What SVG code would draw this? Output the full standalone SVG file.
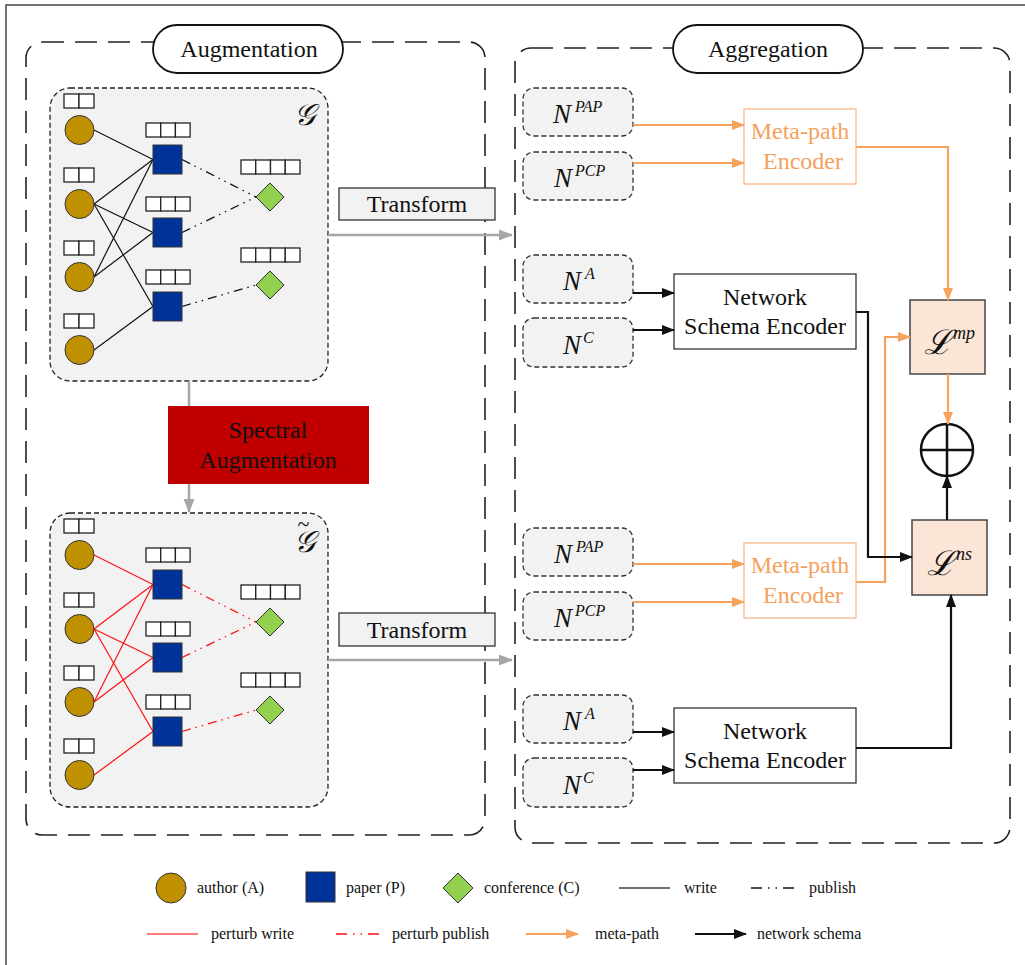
<svg xmlns="http://www.w3.org/2000/svg" width="1025" height="965" viewBox="0 0 1025 965">
<style>
text{font-family:"Liberation Serif","DejaVu Serif",serif;fill:#111}
.t24{font-size:24px}
.lg{font-size:16px}
.big{fill:none;stroke:#222;stroke-width:1.6;stroke-dasharray:22 11}
.pill{fill:#fff;stroke:#111;stroke-width:1.8}
.gbox{fill:#f2f2f2;stroke:#222;stroke-width:1.3;stroke-dasharray:5 3}
.nbox{fill:#f2f2f2;stroke:#333;stroke-width:1.3;stroke-dasharray:5 3}
.cell{fill:#fff;stroke:#222;stroke-width:1.3}
.au{fill:#bf9000;stroke:#333;stroke-width:1}
.pa{fill:#003399;stroke:#333;stroke-width:1}
.co{fill:#92d050;stroke:#333;stroke-width:1}
.w{stroke:#111;stroke-width:1.2;fill:none}
.pub{stroke:#111;stroke-width:1.3;fill:none;stroke-dasharray:9 5 1.5 5 1.5 5}
.rw{stroke:#ff1010;stroke-width:1.2;fill:none}
.rpub{stroke:#ff1010;stroke-width:1.3;fill:none;stroke-dasharray:9 5 1.5 5 1.5 5}
.gray{stroke:#a6a6a6;stroke-width:2.5;fill:none}
.or{stroke:#f7a35c;stroke-width:2.2;fill:none}
.bk{stroke:#111;stroke-width:2.2;fill:none}
.enc{fill:#fff;stroke:#333;stroke-width:1.3}
.menc{fill:#fff;stroke:#f8b88a;stroke-width:1.3}
.otxt{fill:#f4a15e}
.loss{fill:#fbe5d6;stroke:#444;stroke-width:1.5}
.it{font-style:italic}
</style>
<defs>
<marker id="ag" markerUnits="userSpaceOnUse" markerWidth="14" markerHeight="12" refX="13" refY="6" orient="auto"><path d="M0,0.5 L14,6 L0,11.5 Z" fill="#a6a6a6"/></marker>
<marker id="ao" markerUnits="userSpaceOnUse" markerWidth="13" markerHeight="12" refX="12" refY="6" orient="auto"><path d="M0,1 L13,6 L0,11 Z" fill="#f7a35c"/></marker>
<marker id="ab" markerUnits="userSpaceOnUse" markerWidth="13" markerHeight="12" refX="12" refY="6" orient="auto"><path d="M0,1 L13,6 L0,11 Z" fill="#111"/></marker>
<g id="cells2"><rect class="cell" x="0" y="0" width="15" height="14"/><rect class="cell" x="15" y="0" width="15" height="14"/></g>
<g id="cells3"><rect class="cell" x="0" y="0" width="14.7" height="14"/><rect class="cell" x="14.7" y="0" width="14.7" height="14"/><rect class="cell" x="29.4" y="0" width="14.7" height="14"/></g>
<g id="cells4"><rect class="cell" x="0" y="0" width="14.75" height="14"/><rect class="cell" x="14.75" y="0" width="14.75" height="14"/><rect class="cell" x="29.5" y="0" width="14.75" height="14"/><rect class="cell" x="44.25" y="0" width="14.75" height="14"/></g>
</defs>

<rect x="6" y="5" width="1040" height="980" fill="none" stroke="#444" stroke-width="1.5"/>

<g id="augmentation-frame">
<rect class="big" x="26" y="42" width="459" height="793" rx="16"/>
<rect class="pill" x="153" y="25" width="190" height="48" rx="24"/>
<text class="t24" x="249" y="57" text-anchor="middle" font-size="25">Augmentation</text>
</g>
<g id="aggregation-frame">
<rect class="big" x="515" y="48" width="495" height="795" rx="16"/>
<rect class="pill" x="673" y="25" width="190" height="48" rx="24"/>
<text class="t24" x="768" y="57" text-anchor="middle" font-size="25">Aggregation</text>
</g>

<g id="graph-G">
<rect class="gbox" x="50" y="88" width="278" height="293" rx="20"/>
<text x="304" y="125" font-size="30" class="it" text-anchor="middle">𝒢</text>
<g class="edges">
<line class="w" x1="94" y1="130" x2="153" y2="159.5"/>
<line class="w" x1="94" y1="204" x2="153" y2="159.5"/>
<line class="w" x1="94" y1="204" x2="153" y2="232.5"/>
<line class="w" x1="94" y1="204" x2="153" y2="306.5"/>
<line class="w" x1="94" y1="277" x2="153" y2="159.5"/>
<line class="w" x1="94" y1="277" x2="153" y2="232.5"/>
<line class="w" x1="94" y1="350" x2="153" y2="306.5"/>
<line class="pub" x1="182" y1="159.5" x2="256" y2="197"/>
<line class="pub" x1="182" y1="232.5" x2="256" y2="197"/>
<line class="pub" x1="182" y1="306.5" x2="256" y2="285"/>
</g>
<use href="#cells2" x="64" y="94"/><circle class="au" cx="79.5" cy="130" r="14.5"/>
<use href="#cells2" x="64" y="168"/><circle class="au" cx="79.5" cy="204" r="14.5"/>
<use href="#cells2" x="64" y="241"/><circle class="au" cx="79.5" cy="277" r="14.5"/>
<use href="#cells2" x="64" y="314"/><circle class="au" cx="79.5" cy="350" r="14.5"/>
<use href="#cells3" x="146" y="123"/><rect class="pa" x="153" y="145" width="29" height="29"/>
<use href="#cells3" x="146" y="197"/><rect class="pa" x="153" y="218" width="29" height="29"/>
<use href="#cells3" x="146" y="270"/><rect class="pa" x="153" y="292" width="29" height="29"/>
<use href="#cells4" x="241" y="160"/><path class="co" d="M256,197 L270,183 L284,197 L270,211 Z"/>
<use href="#cells4" x="241" y="248"/><path class="co" d="M256,285 L270,271 L284,285 L270,299 Z"/>
</g>

<g id="graph-G-tilde">
<rect class="gbox" x="50" y="513" width="278" height="294" rx="20"/>
<text x="304" y="552" font-size="30" class="it" text-anchor="middle">𝒢<tspan font-size="22" font-style="normal" dx="-17" dy="-21">~</tspan></text>
<g class="edges">
<line class="rw" x1="94" y1="555" x2="153" y2="584.5"/>
<line class="rw" x1="94" y1="629" x2="153" y2="584.5"/>
<line class="rw" x1="94" y1="629" x2="153" y2="657.5"/>
<line class="rw" x1="94" y1="629" x2="153" y2="731.5"/>
<line class="rw" x1="94" y1="702" x2="153" y2="584.5"/>
<line class="rw" x1="94" y1="702" x2="153" y2="657.5"/>
<line class="rw" x1="94" y1="775" x2="153" y2="731.5"/>
<line class="rpub" x1="182" y1="584.5" x2="256" y2="622"/>
<line class="rpub" x1="182" y1="657.5" x2="256" y2="622"/>
<line class="rpub" x1="182" y1="731.5" x2="256" y2="710"/>
</g>
<use href="#cells2" x="64" y="519"/><circle class="au" cx="79.5" cy="555" r="14.5"/>
<use href="#cells2" x="64" y="593"/><circle class="au" cx="79.5" cy="629" r="14.5"/>
<use href="#cells2" x="64" y="666"/><circle class="au" cx="79.5" cy="702" r="14.5"/>
<use href="#cells2" x="64" y="739"/><circle class="au" cx="79.5" cy="775" r="14.5"/>
<use href="#cells3" x="146" y="548"/><rect class="pa" x="153" y="570" width="29" height="29"/>
<use href="#cells3" x="146" y="622"/><rect class="pa" x="153" y="643" width="29" height="29"/>
<use href="#cells3" x="146" y="695"/><rect class="pa" x="153" y="717" width="29" height="29"/>
<use href="#cells4" x="241" y="585"/><path class="co" d="M256,622 L270,608 L284,622 L270,636 Z"/>
<use href="#cells4" x="241" y="673"/><path class="co" d="M256,710 L270,696 L284,710 L270,724 Z"/>
</g>

<g id="spectral">
<rect x="168" y="406" width="201" height="78" fill="#c00000"/>
<text class="t24" x="268" y="438" text-anchor="middle" font-size="25">Spectral</text>
<text class="t24" x="268" y="468" text-anchor="middle" font-size="25">Augmentation</text>
</g>
<g id="transform-1">
<rect x="339" y="188" width="156" height="32" fill="#f2f2f2" stroke="#333" stroke-width="1.3"/>
<text class="t24" x="417" y="212" text-anchor="middle">Transform</text>
</g>
<g id="transform-2">
<rect x="339" y="613" width="156" height="33" fill="#f2f2f2" stroke="#333" stroke-width="1.3"/>
<text class="t24" x="417" y="638" text-anchor="middle">Transform</text>
</g>

<g id="n-pap-1"><rect class="nbox" x="523" y="88" width="110" height="48" rx="11"/><text x="553" y="123" font-size="27" class="it">N<tspan font-size="16" dx="4" dy="-11">PAP</tspan></text></g>
<g id="n-pcp-1"><rect class="nbox" x="523" y="152" width="110" height="48" rx="11"/><text x="554" y="187" font-size="27" class="it">N<tspan font-size="16" dx="3" dy="-11">PCP</tspan></text></g>
<g id="n-a-1"><rect class="nbox" x="523" y="255" width="110" height="48" rx="11"/><text x="563" y="290" font-size="27" class="it">N<tspan font-size="16" dx="4" dy="-11">A</tspan></text></g>
<g id="n-c-1"><rect class="nbox" x="523" y="318" width="110" height="49" rx="11"/><text x="563" y="354" font-size="27" class="it">N<tspan font-size="16" dx="2" dy="-11">C</tspan></text></g>
<g id="n-pap-2"><rect class="nbox" x="523" y="528" width="110" height="48" rx="11"/><text x="554" y="563" font-size="27" class="it">N<tspan font-size="16" dx="4" dy="-11">PAP</tspan></text></g>
<g id="n-pcp-2"><rect class="nbox" x="523" y="592" width="110" height="48" rx="11"/><text x="554" y="627" font-size="27" class="it">N<tspan font-size="16" dx="3" dy="-11">PCP</tspan></text></g>
<g id="n-a-2"><rect class="nbox" x="523" y="695" width="110" height="48" rx="11"/><text x="563" y="730" font-size="27" class="it">N<tspan font-size="16" dx="4" dy="-11">A</tspan></text></g>
<g id="n-c-2"><rect class="nbox" x="523" y="758" width="110" height="49" rx="11"/><text x="563" y="794" font-size="27" class="it">N<tspan font-size="16" dx="2" dy="-11">C</tspan></text></g>

<g id="mp-enc-1"><rect class="menc" x="744" y="109" width="112" height="75"/><text class="t24 otxt" x="800" y="139" text-anchor="middle" font-size="25">Meta-path</text><text class="t24 otxt" x="803" y="169" text-anchor="middle" font-size="25">Encoder</text></g>
<g id="mp-enc-2"><rect class="menc" x="744" y="543" width="112" height="75"/><text class="t24 otxt" x="800" y="573" text-anchor="middle" font-size="25">Meta-path</text><text class="t24 otxt" x="803" y="603" text-anchor="middle" font-size="25">Encoder</text></g>
<g id="ns-enc-1"><rect class="enc" x="674" y="274" width="182" height="75"/><text class="t24" x="765" y="305" text-anchor="middle" font-size="25">Network</text><text class="t24" x="765" y="334" text-anchor="middle" font-size="25">Schema Encoder</text></g>
<g id="ns-enc-2"><rect class="enc" x="674" y="708" width="182" height="75"/><text class="t24" x="765" y="739" text-anchor="middle" font-size="25">Network</text><text class="t24" x="765" y="768" text-anchor="middle" font-size="25">Schema Encoder</text></g>

<g id="loss-mp"><rect class="loss" x="910" y="300" width="75" height="74"/><text x="924" y="354" font-size="34" class="it">ℒ<tspan font-size="18" dx="1" dy="-15">mp</tspan></text></g>
<g id="loss-ns"><rect class="loss" x="912" y="520" width="75" height="75"/><text x="927" y="575" font-size="34" class="it">ℒ<tspan font-size="18" dx="1" dy="-15">ns</tspan></text></g>
<g id="sum"><circle cx="947" cy="450" r="26" fill="#fff" stroke="#111" stroke-width="2.5"/><line x1="921" y1="450" x2="973" y2="450" stroke="#111" stroke-width="2.5"/><line x1="947" y1="424" x2="947" y2="476" stroke="#111" stroke-width="2.5"/></g>

<g id="connectors">
<path class="gray" d="M189,381 V406"/>
<path class="gray" d="M189,484 V512" marker-end="url(#ag)"/>
<path class="gray" d="M328,235 H512" marker-end="url(#ag)"/>
<path class="gray" d="M328,660 H512" marker-end="url(#ag)"/>
<path class="or" d="M633,125 H744" marker-end="url(#ao)"/>
<path class="or" d="M633,163 H744" marker-end="url(#ao)"/>
<path class="or" d="M856,147 H948 V300" marker-end="url(#ao)"/>
<path class="or" d="M633,564 H744" marker-end="url(#ao)"/>
<path class="or" d="M633,602 H744" marker-end="url(#ao)"/>
<path class="or" d="M856,582 H885 V337 H910" marker-end="url(#ao)"/>
<path class="or" d="M948,374 V424" marker-end="url(#ao)"/>
<path class="bk" d="M633,293 H674" marker-end="url(#ab)"/>
<path class="bk" d="M633,330 H674" marker-end="url(#ab)"/>
<path class="bk" d="M856,312 H868 V557 H912" marker-end="url(#ab)"/>
<path class="bk" d="M633,732 H674" marker-end="url(#ab)"/>
<path class="bk" d="M633,770 H674" marker-end="url(#ab)"/>
<path class="bk" d="M856,748 H951 V595" marker-end="url(#ab)"/>
<path class="bk" d="M947,520 V476" marker-end="url(#ab)"/>
</g>

<g id="legend">
<circle class="au" cx="171" cy="888" r="15"/><text class="lg" x="197" y="893">author (A)</text>
<rect class="pa" x="306" y="872" width="29" height="30"/><text class="lg" x="346" y="893">paper (P)</text>
<path class="co" d="M443,888 L458,873 L473,888 L458,903 Z"/><text class="lg" x="484" y="893">conference (C)</text>
<line x1="619" y1="888" x2="670" y2="888" stroke="#404040" stroke-width="1.5"/><text class="lg" x="684" y="893">write</text>
<line x1="751" y1="888" x2="797" y2="888" stroke="#111" stroke-width="1.5" stroke-dasharray="11 6 1.5 6 1.5 6"/><text class="lg" x="809" y="893">publish</text>
<line x1="147" y1="934" x2="198" y2="934" stroke="#ff5050" stroke-width="1.5"/><text class="lg" x="211" y="939">perturb write</text>
<line x1="336" y1="934" x2="382" y2="934" stroke="#ff1010" stroke-width="1.5" stroke-dasharray="11 6 1.5 6 1.5 6"/><text class="lg" x="392" y="939">perturb publish</text>
<path d="M526,934 H578" stroke="#f7a35c" stroke-width="2" marker-end="url(#ao)"/><text class="lg" x="595" y="939">meta-path</text>
<path d="M695,934 H746" stroke="#111" stroke-width="2" marker-end="url(#ab)"/><text class="lg" x="757" y="939">network schema</text>
</g>
</svg>
